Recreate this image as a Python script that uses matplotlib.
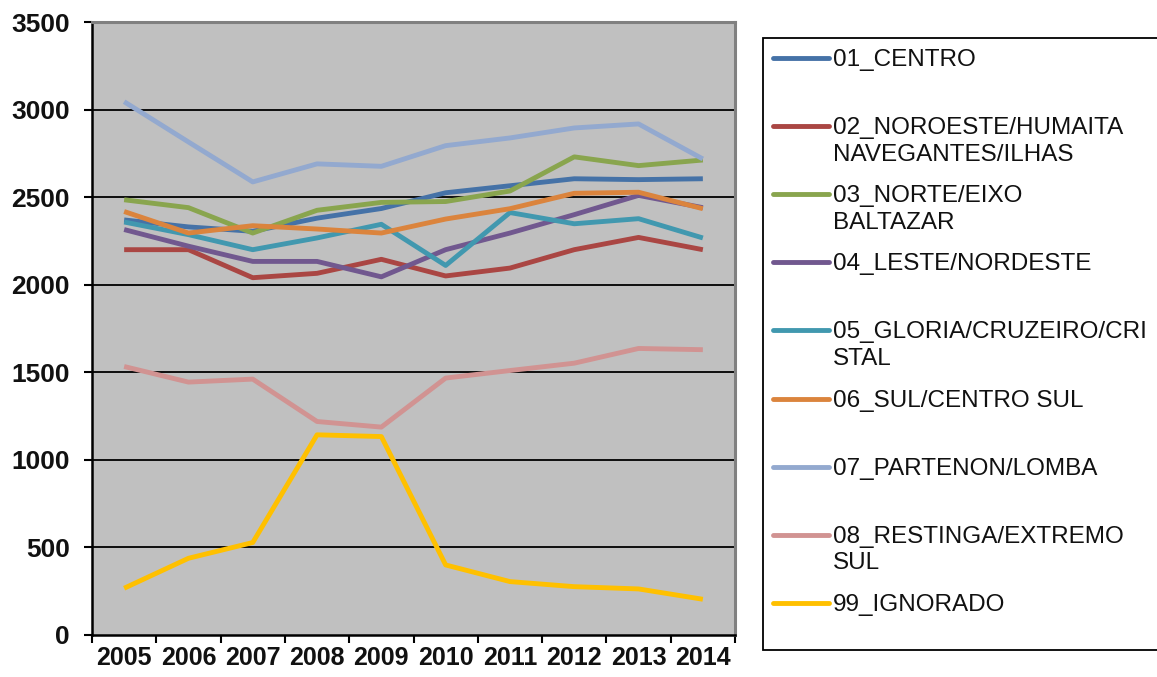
import matplotlib
matplotlib.use("Agg")
import matplotlib.pyplot as plt
from matplotlib.lines import Line2D
from matplotlib.patches import Rectangle

plt.rcParams['font.family'] = ['Liberation Sans', 'DejaVu Sans']

years = ["2005", "2006", "2007", "2008", "2009", "2010", "2011", "2012", "2013", "2014"]

centro = [2370, 2330, 2305, 2380, 2435, 2525, 2565, 2605, 2600, 2605]
noroeste = [2200, 2200, 2040, 2065, 2145, 2050, 2095, 2200, 2270, 2200]
norte = [2485, 2440, 2295, 2425, 2470, 2475, 2535, 2730, 2680, 2712]
leste = [2315, 2220, 2133, 2133, 2045, 2200, 2295, 2400, 2510, 2440]
gloria = [2358, 2286, 2200, 2267, 2345, 2110, 2412, 2348, 2377, 2267]
sul = [2418, 2295, 2337, 2318, 2295, 2375, 2434, 2522, 2528, 2434]
partenon = [3045, 2815, 2587, 2690, 2676, 2794, 2838, 2895, 2918, 2718]
restinga = [1533, 1444, 1461, 1219, 1187, 1467, 1510, 1552, 1636, 1629]
ignorado = [267, 438, 528, 1143, 1133, 400, 305, 276, 263, 204]

labels = ["01_CENTRO",
          "02_NOROESTE/HUMAITA\nNAVEGANTES/ILHAS",
          "03_NORTE/EIXO\nBALTAZAR",
          "04_LESTE/NORDESTE",
          "05_GLORIA/CRUZEIRO/CRI\nSTAL",
          "06_SUL/CENTRO SUL",
          "07_PARTENON/LOMBA",
          "08_RESTINGA/EXTREMO\nSUL",
          "99_IGNORADO"]
series = [centro, noroeste, norte, leste, gloria, sul, partenon, restinga, ignorado]
colors = ['#4572A7', '#AA4643', '#89A54E', '#71588F', '#4198AF',
          '#DB843D', '#93A9CF', '#D19392', '#FFC000']

W, H = 1157, 677
fig = plt.figure(figsize=(W / 100, H / 100), dpi=100)
fig.patch.set_facecolor('white')

ax = fig.add_axes([92 / W, 1 - 635 / H, (735 - 92) / W, (635 - 22) / H])
ax.set_facecolor('#C0C0C0')

x = list(range(len(years)))
for vals, c in zip(series, colors):
    ax.plot(x, vals, color=c, lw=3.5, solid_joinstyle='round', solid_capstyle='butt')

ax.set_xlim(-0.5, len(years) - 0.5)
ax.set_ylim(0, 3500)
ax.set_yticks(range(0, 3501, 500))
for yv in range(500, 3001, 500):
    ax.axhline(yv, color='black', lw=1.3, zorder=0.5)

ax.set_xticks([i - 0.5 for i in range(len(years) + 1)])
ax.set_xticklabels([])
ax.set_xticks(x, minor=True)
ax.set_xticklabels(years, minor=True)
ax.tick_params(axis='x', which='major', length=6, width=1.5, color='black', direction='out')
ax.tick_params(axis='x', which='minor', length=0, pad=8, labelsize=18)
ax.tick_params(axis='y', length=6, width=1.5, color='black', direction='out', pad=10, labelsize=19)
for lab in ax.get_xticklabels(minor=True) + ax.get_yticklabels():
    lab.set_fontweight('bold')
    lab.set_color('#111111')

for side in ['left', 'bottom']:
    ax.spines[side].set_color('black')
    ax.spines[side].set_linewidth(1.8)
for side in ['top', 'right']:
    ax.spines[side].set_color('#808080')
    ax.spines[side].set_linewidth(2.2)

# Legend box (its right edge runs past the image border)
fig.add_artist(Rectangle((763 / W, 1 - 650 / H), (1175 - 763) / W, (650 - 38) / H,
                         transform=fig.transFigure, facecolor='white',
                         edgecolor='black', lw=1.3, clip_on=False))
for i, (lab, c) in enumerate(zip(labels, colors)):
    ly = 58 + 68.1 * i
    fig.add_artist(Line2D([773 / W, 829 / W], [1 - ly / H, 1 - ly / H],
                          transform=fig.transFigure, color=c, lw=3.5,
                          solid_capstyle='round'))
    for k, part in enumerate(lab.split("\n")):
        fig.text(833 / W, 1 - (ly + 8 + 26.7 * k) / H, part, fontsize=17.5,
                 va='baseline', ha='left', color='#111111')

fig.savefig('out.png', dpi=100)
